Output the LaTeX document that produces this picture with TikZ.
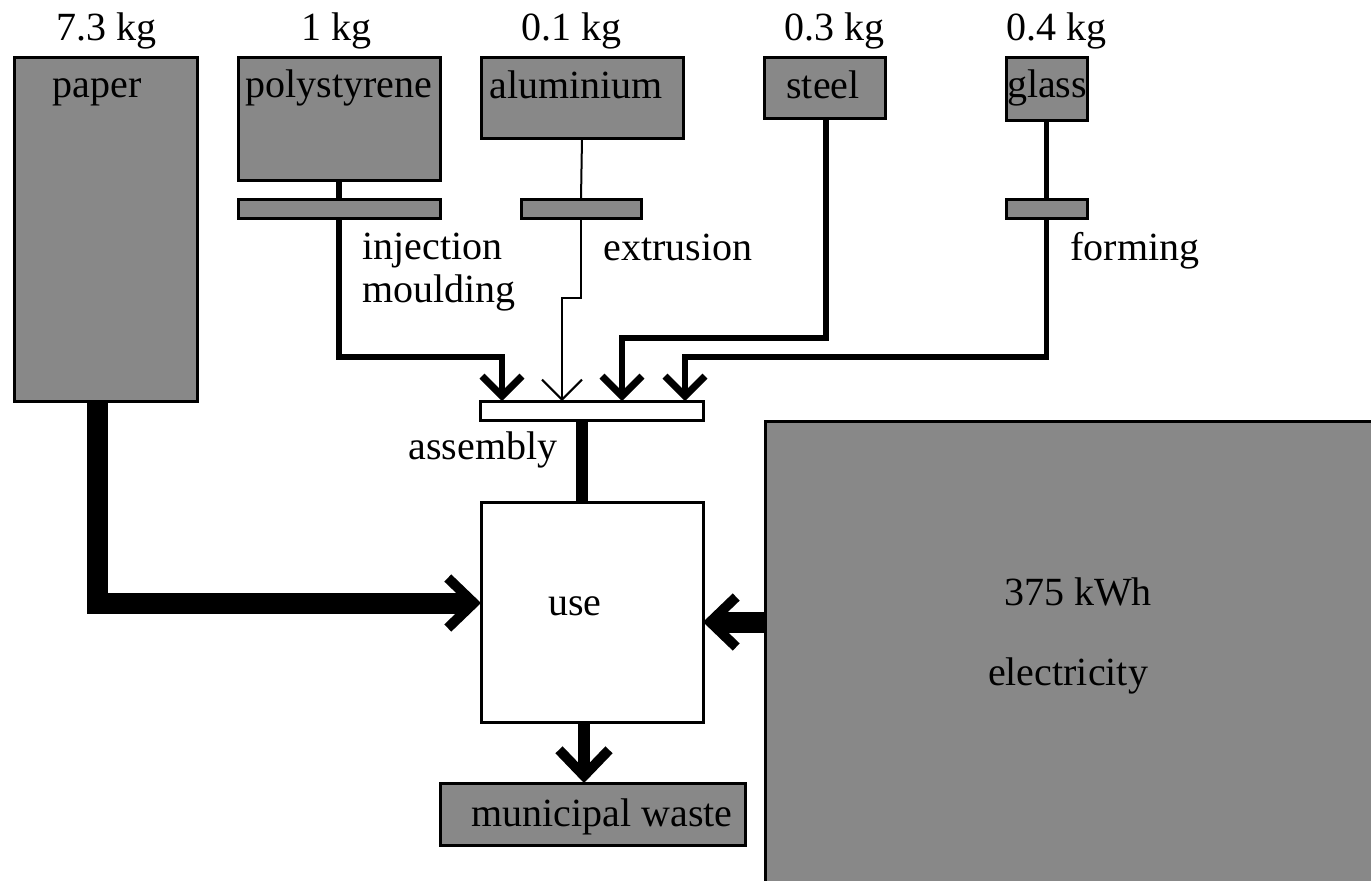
\documentclass[tikz,border=0pt]{standalone}
\usepackage{fontspec}
\setmainfont{Liberation Serif}
\usetikzlibrary{arrows.meta,calc}
\definecolor{boxgray}{RGB}{136,136,136}
\tikzset{
  box/.style={draw=black,fill=boxgray,line width=1.5pt,inner sep=0pt,outer sep=0pt},
  wbox/.style={draw=black,fill=white,line width=1.5pt,inner sep=0pt,outer sep=0pt},
  txt/.style={inner sep=0pt,font=\fontsize{20}{21.5}\selectfont},
  bigflow/.style={line width=10.5pt,-{Straight Barb[length=13pt,width=25pt,line width=5pt]}},
  midflow/.style={line width=6pt,-{Straight Barb[length=13pt,width=25pt,line width=5pt]}},
  smallflow/.style={line width=2.8pt,-{Straight Barb[length=10pt,width=20pt,line width=3.5pt]}},
  thinflow/.style={line width=1pt,-{Straight Barb[length=10pt,width=20pt,line width=1pt]}},
  link/.style={line width=2.8pt},
  thinlink/.style={line width=1pt},
}
\begin{document}
\begin{tikzpicture}[x=0.5pt,y=-0.5pt]
\useasboundingbox (0,0) rectangle (1371,880);
% boxes
\node[box,minimum width=91.5pt,minimum height=172pt] (paper) at (105.5,229) {};
\node[box,minimum width=101pt,minimum height=61.5pt] (poly) at (339,118.5) {};
\node[box,minimum width=101pt,minimum height=40.5pt] (alu) at (582,97.5) {};
\node[box,minimum width=60.5pt,minimum height=30.5pt] (steel) at (824.5,87.5) {};
\node[box,minimum width=40.5pt,minimum height=31.5pt] (glass) at (1046.5,88.5) {};
% process bars
\node[box,minimum width=101pt,minimum height=9.5pt] (inj) at (339,208.5) {};
\node[box,minimum width=60pt,minimum height=9.5pt] (ext) at (581,208.5) {};
\node[box,minimum width=40.5pt,minimum height=9.5pt] (form) at (1046.5,208.5) {};
\node[wbox,minimum width=111.5pt,minimum height=9.5pt] (asm) at (591.5,410.5) {};
\node[wbox,minimum width=111pt,minimum height=110pt] (use) at (592,612) {};
\node[box,minimum width=305pt,minimum height=232pt] (elec) at (1070,653) {};
\node[box,minimum width=152.5pt,minimum height=31pt] (waste) at (592.5,814) {};
% texts
\node[txt,anchor=base] (m1) at (106,40) {7.3 kg};
\node[txt,anchor=base] (m2) at (336,40) {1 kg};
\node[txt,anchor=base] (m3) at (571,40) {0.1 kg};
\node[txt,anchor=base] (m4) at (834,40) {0.3 kg};
\node[txt,anchor=base] (m5) at (1056,40) {0.4 kg};
\node[txt,anchor=base] (t1) at (97,97) {paper};
\node[txt,anchor=base] (t2) at (339,97) {polystyrene};
\node[txt,anchor=base] (t3) at (576,98) {aluminium};
\node[txt,anchor=base] (t4) at (823,98) {steel};
\node[txt,anchor=base] (t5) at (1047,97) {glass};
\node[txt,anchor=west,align=left] (l1) at (362,272) {injection\\moulding};
\node[txt,anchor=west] (l2) at (603,247) {extrusion};
\node[txt,anchor=west] (l3) at (1070,251) {forming};
\node[txt] (l4) at (483,450) {assembly};
\node[txt] (t6) at (575,606) {use};
\node[txt] (t7) at (1078,592) {375 kWh};
\node[txt] (t8) at (1068,676) {electricity};
\node[txt] (t9) at (602,817) {municipal waste};
% connectors
\draw[link] (poly.south) -- (inj.north);
\draw[smallflow] (inj.south) -- ++(0,139) -| ($(asm.north west)+(22,0)$);
\draw[thinlink] (alu.south) -- (ext.north);
\draw[thinflow] (ext.south) -- ++(0,80) -| ($(asm.north west)+(82,0)$);
\draw[smallflow] ([xshift=0.75pt]steel.south) -- ++(0,220) -| ($(asm.north west)+(142,0)$);
\draw[link] (glass.south) -- (form.north);
\draw[smallflow] (form.south) -- ++(0,139) -| ($(asm.north west)+(205,0)$);
\draw[line width=6pt] ([xshift=-5pt]asm.south) -- ([xshift=-5pt]asm.south |- use.north);
\draw[bigflow] ([xshift=-4.25pt]paper.south) |- ([yshift=4.5pt]use.west);
\draw[bigflow] ([yshift=15.5pt]elec.west) -- ([yshift=15.5pt]elec.west -| use.east);
\draw[midflow] ([xshift=-4pt]use.south) -- ([xshift=-4pt]use.south |- waste.north);
\end{tikzpicture}
\end{document}
